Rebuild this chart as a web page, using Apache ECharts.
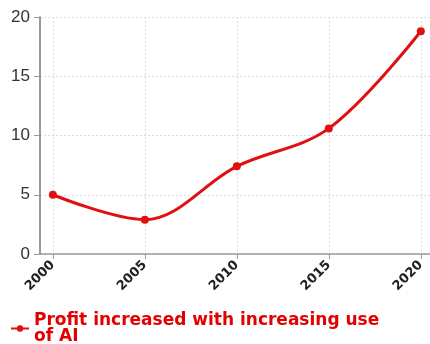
<!DOCTYPE html>
<html>
<head>
<meta charset="utf-8">
<script src="https://cdn.jsdelivr.net/npm/echarts@6/dist/echarts.min.js"></script>
<style>
  html, body { margin: 0; padding: 0; background: #fff; }
  #chart { width: 430px; height: 344px; }
</style>
</head>
<body>
<div id="chart"></div>
<script>
// Years on the horizontal axis and profit values
const years = [2000, 2005, 2010, 2015, 2020];
const profit = [5.0, 2.9, 7.4, 10.6, 18.8];
const yTicks = [0, 5, 10, 15, 20];
const seriesName = 'Profit increased with increasing use of AI';

const chart = echarts.init(document.getElementById('chart'), null, { renderer: 'canvas' });

chart.setOption({
  animation: false,
  backgroundColor: '#ffffff',
  grid: { left: 40, right: 0, top: 17, bottom: 90, containLabel: false },
  xAxis: {
    type: 'value',
    min: 1999.3,
    max: 2020.5,
    axisLine: { show: true, lineStyle: { color: '#999', width: 1.5 } },
    axisTick: { show: true, customValues: years, length: 5, lineStyle: { color: '#999' } },
    axisLabel: {
      customValues: years,
      rotate: 45,
      margin: 9,
      color: '#222',
      fontSize: 13,
      fontWeight: 'bold',
      fontFamily: '"DejaVu Sans", sans-serif',
      formatter: v => String(v)
    },
    splitLine: { show: true, lineStyle: { color: '#ddd', type: [2, 2], width: 1 } }
  },
  yAxis: {
    type: 'value',
    min: yTicks[0],
    max: yTicks[yTicks.length - 1],
    interval: 5,
    axisLine: { show: true, lineStyle: { color: '#777', width: 1.5 } },
    axisTick: { show: true, length: 6, lineStyle: { color: '#999' } },
    axisLabel: {
      color: '#333',
      fontSize: 17,
      margin: 10,
      fontFamily: '"Liberation Sans", Arial, sans-serif'
    },
    splitLine: { show: true, lineStyle: { color: '#ddd', type: [2, 2], width: 1 } }
  },
  legend: {
    left: 10,
    top: 312,
    padding: 0,
    orient: 'horizontal',
    itemWidth: 18,
    itemHeight: 8,
    textStyle: {
      color: '#e40000',
      fontSize: 17,
      fontWeight: 'bold',
      fontFamily: '"DejaVu Sans", sans-serif',
      width: 360,
      overflow: 'break',
      lineHeight: 16
    },
    data: [{ name: seriesName }]
  },
  series: [{
    name: seriesName,
    type: 'line',
    smooth: 0.35,
    data: years.map((y, i) => [y, profit[i]]),
    symbol: 'circle',
    symbolSize: 8,
    lineStyle: { color: '#e01010', width: 3 },
    itemStyle: { color: '#e01010' }
  }]
});
</script>
</body>
</html>
